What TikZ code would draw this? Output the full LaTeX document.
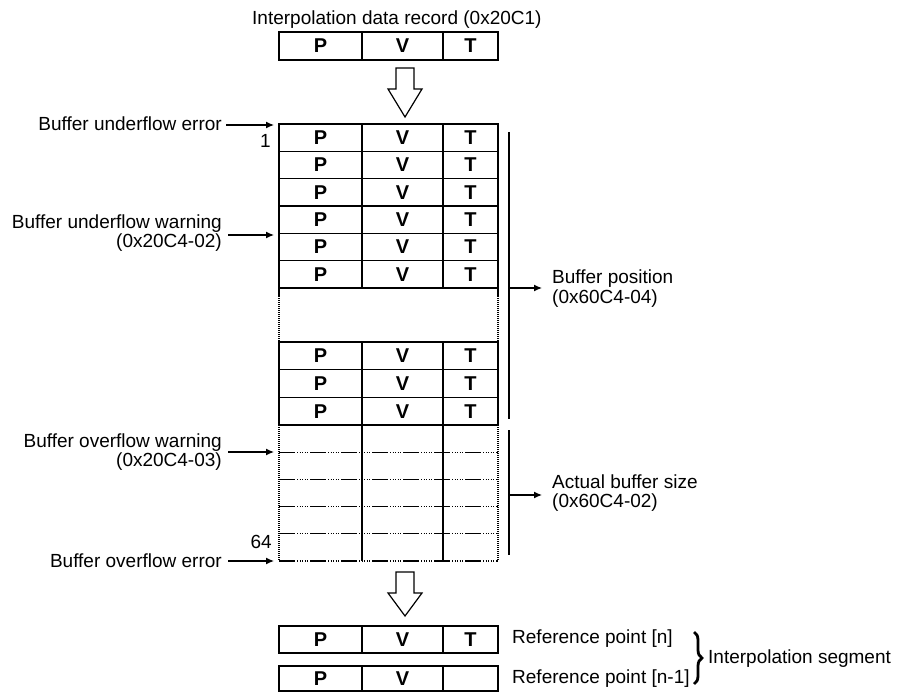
\documentclass[tikz,border=0pt]{standalone}
\usepackage{fontspec}
\setmainfont{Liberation Sans}
\usetikzlibrary{decorations.pathreplacing,arrows.meta}
\begin{document}
\begin{tikzpicture}[x=1pt,y=-1pt,
  lbl/.style={inner sep=0pt, font=\fontsize{19}{20}\selectfont},
  cell/.style={inner sep=0pt, font=\fontsize{20}{20}\selectfont\bfseries},
  ln/.style={line width=1.3pt},
  dotln/.style={line width=1.1pt, dash pattern=on 1pt off 1pt},
  ddln/.style={line width=1.3pt, dash pattern=on 16pt off 2pt on 1pt off 1.5pt on 1pt off 1.5pt on 1pt off 1.5pt on 1pt off 1.5pt on 1pt off 2pt},
  arr/.style={line width=1.2pt, -{Latex[length=8pt,width=7pt]}},
  hollow/.style={line width=1.2pt, fill=white}]
\useasboundingbox[fill=white] (0,0) rectangle (907,692);

% ---- title and top record
\node[lbl, anchor=base west] (title) at (252,25) {Interpolation data record (0x20C1)};
\draw[ln] (279,32) rectangle (498,60);
\draw[ln] (362,32) -- (362,60) (443,32) -- (443,60);
\node[cell] (tp) at (320.5,46) {P};
\node[cell] (tv) at (402.5,46) {V};
\node[cell] (tt) at (470.5,46) {T};

% ---- hollow arrow top
\draw[hollow] (396,68) -- (414,68) -- (414,89) -- (422,89) -- (405,117) -- (388,89) -- (396,89) -- cycle;

% ---- buffer section A (6 rows)
\draw[ln] (279,124) rectangle (498,288);
\foreach \y in {151.33,178.67,206,233.33,260.67} \draw[ln] (279,\y) -- (498,\y);
\draw[ln] (362,124) -- (362,288) (443,124) -- (443,288);
\foreach \i/\c in {1/137.67,2/165,3/192.33,4/219.67,5/247,6/274.33} {
  \node[cell] (a\i p) at (320.5,\c) {P};
  \node[cell] (a\i v) at (402.5,\c) {V};
  \node[cell] (a\i t) at (470.5,\c) {T};
}

% ---- gap
\draw[ln] (279,288) -- (279,296) (498,288) -- (498,296);
\draw[dotln] (279,296) -- (279,342) (498,296) -- (498,342);

% ---- buffer section B (3 rows)
\draw[ln] (279,342) rectangle (498,425);
\foreach \y in {369.67,397.33} \draw[ln] (279,\y) -- (498,\y);
\draw[ln] (362,342) -- (362,425) (443,342) -- (443,425);
\foreach \i/\c in {1/355.83,2/383.5,3/411.17} {
  \node[cell] (b\i p) at (320.5,\c) {P};
  \node[cell] (b\i v) at (402.5,\c) {V};
  \node[cell] (b\i t) at (470.5,\c) {T};
}

% ---- buffer section C (empty rows)
\draw[dotln] (279,425) -- (279,561) (498,425) -- (498,561);
\draw[ln] (362,425) -- (362,561) (443,425) -- (443,561);
\foreach \y in {452.2,479.4,506.6,533.8,561} \draw[ddln] (279,\y) -- (498,\y);

% ---- left labels
\node[lbl, anchor=base east] (uerr) at (222,131) {Buffer underflow error};
\coordinate (uerrS) at (226,125); \coordinate (uerrE) at (274,125);
\draw[arr] (uerrS) -- (uerrE);
\node[lbl, anchor=base east] (one) at (271,148) {1};

\node[lbl, anchor=base east] (uw1) at (222,229) {Buffer underflow warning};
\node[lbl, anchor=base east] (uw2) at (222,248) {(0x20C4-02)};
\coordinate (uwS) at (228,235); \coordinate (uwE) at (274,235);
\draw[arr] (uwS) -- (uwE);

\node[lbl, anchor=base east] (ow1) at (222,447) {Buffer overflow warning};
\node[lbl, anchor=base east] (ow2) at (222,466) {(0x20C4-03)};
\coordinate (owS) at (228,452); \coordinate (owE) at (274,452);
\draw[arr] (owS) -- (owE);

\node[lbl, anchor=base east] (sixty) at (272,548) {64};
\node[lbl, anchor=base east] (oerr) at (222,567) {Buffer overflow error};
\coordinate (oerrS) at (228,561); \coordinate (oerrE) at (274,561);
\draw[arr] (oerrS) -- (oerrE);

% ---- right brackets and labels
\draw[ln] (509,132) -- (509,419);
\draw[ln] (509,430) -- (509,555);
\coordinate (bpS) at (509,288); \coordinate (bpE) at (542,288);
\draw[arr] (bpS) -- (bpE);
\node[lbl, anchor=base west] (bp1) at (552,284) {Buffer position};
\node[lbl, anchor=base west] (bp2) at (552,303.5) {(0x60C4-04)};
\coordinate (bsS) at (509,495); \coordinate (bsE) at (542,495);
\draw[arr] (bsS) -- (bsE);
\node[lbl, anchor=base west] (bs1) at (552,488) {Actual buffer size};
\node[lbl, anchor=base west] (bs2) at (552,507.5) {(0x60C4-02)};

% ---- hollow arrow bottom
\draw[hollow] (396,572) -- (414,572) -- (414,593) -- (422,593) -- (405,616) -- (388,593) -- (396,593) -- cycle;

% ---- output records
\draw[ln] (279,626) rectangle (498,653);
\draw[ln] (362,626) -- (362,653) (443,626) -- (443,653);
\node[cell] (np) at (320.5,639.5) {P};
\node[cell] (nv) at (402.5,639.5) {V};
\node[cell] (nt) at (470.5,639.5) {T};
\draw[ln] (279,666) rectangle (498,691);
\draw[ln] (362,666) -- (362,691) (443,666) -- (443,691);
\node[cell] (mp) at (320.5,678.5) {P};
\node[cell] (mv) at (402.5,678.5) {V};

\node[lbl, anchor=base west] (rn) at (512,643) {Reference point [n]};
\node[lbl, anchor=base west] (rm) at (512,683) {Reference point [n-1]};
\draw[decorate, decoration={brace, amplitude=8pt}, line width=2.8pt] (694,632) -- (694,684);
\node[lbl, anchor=base west] (seg) at (708,663) {Interpolation segment};
\end{tikzpicture}
\end{document}
